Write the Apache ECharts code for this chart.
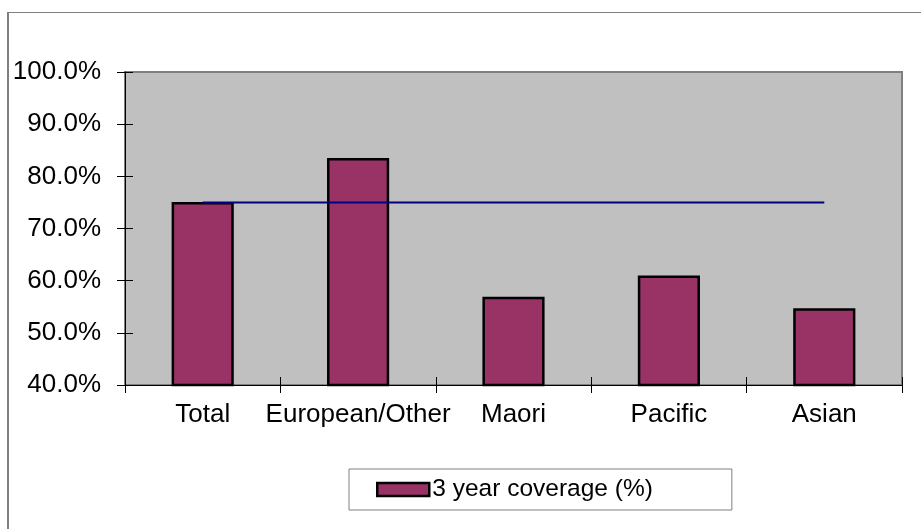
<!DOCTYPE html>
<html>
<head>
<meta charset="utf-8">
<script src="https://cdn.jsdelivr.net/npm/echarts@6/dist/echarts.min.js"></script>
<style>
  html, body { margin: 0; padding: 0; background: #fff; }
  #frame { position: absolute; left: 7px; top: 12px; width: 1000px; height: 1000px;
           border-left: 2px solid #808080; border-top: 1px solid #808080; }
  #chart { position: absolute; left: 0; top: 0; width: 921px; height: 529px; }
</style>
</head>
<body>
<div id="frame"></div>
<div id="chart"></div>
<script>
const categories = ['Total', 'European/Other', 'Maori', 'Pacific', 'Asian'];
const coverage = [75.1, 83.5, 56.9, 61.0, 54.7];
const target = [75, 75, 75, 75, 75];
const yTicks = { min: 40, max: 100, interval: 10 };
const seriesName = '3 year coverage (%)';

const font = 'Liberation Sans, Arial, sans-serif';
const chart = echarts.init(document.getElementById('chart'), null, { renderer: 'canvas' });

const gridTop = 72, gridBottomY = 385, gridLeft = 125, gridRightX = 902;
const gridH = gridBottomY - gridTop, gridW = gridRightX - gridLeft;

chart.setOption({
  animation: false,
  backgroundColor: 'transparent',
  grid: {
    left: gridLeft, top: gridTop, right: 921 - gridRightX, bottom: 529 - gridBottomY,
    show: true, backgroundColor: '#C0C0C0', borderColor: '#808080', borderWidth: 2
  },
  legend: {
    data: [{ name: seriesName, icon: 'rect', itemStyle: { color: '#993366', borderColor: '#000', borderWidth: 2.5 } }],
    left: 349, top: 469,
    itemWidth: 52, itemHeight: 13, itemGap: 0,
    padding: [8, 79, 8, 27],
    backgroundColor: '#fff', borderColor: '#808080', borderWidth: 1, borderRadius: 0,
    selectedMode: false,
    textStyle: { fontFamily: font, fontSize: 24.5, color: '#000', padding: [0, 0, 0, -2] }
  },
  xAxis: [
    {
      type: 'category', data: categories, position: 'bottom',
      axisLine: { lineStyle: { color: '#000', width: 1 } },
      axisTick: { show: true, inside: false, length: 8, lineStyle: { color: '#000' } },
      axisLabel: { fontFamily: font, fontSize: 26, color: '#000', margin: 17, interval: 0 },
      splitLine: { show: false }
    },
    {
      type: 'category', data: categories, position: 'top', offset: -(gridH - 8),
      axisLine: { show: false },
      axisTick: { show: true, inside: true, length: 8, lineStyle: { color: '#000' } },
      axisLabel: { show: false }, splitLine: { show: false }
    }
  ],
  yAxis: [
    {
      type: 'value', min: yTicks.min, max: yTicks.max, interval: yTicks.interval,
      axisLine: { show: true, lineStyle: { color: '#000', width: 1 } },
      axisTick: { show: true, inside: false, length: 8, lineStyle: { color: '#000' } },
      axisLabel: { fontFamily: font, fontSize: 26, color: '#000', margin: 24,
                   formatter: v => v.toFixed(1) + '%' },
      splitLine: { show: false }
    },
    {
      type: 'value', min: yTicks.min, max: yTicks.max, interval: yTicks.interval,
      position: 'right', offset: -(gridW - 8),
      axisLine: { show: false },
      axisTick: { show: true, inside: true, length: 8, lineStyle: { color: '#000' } },
      axisLabel: { show: false }, splitLine: { show: false }
    }
  ],
  series: [
    {
      name: seriesName, type: 'bar', data: coverage, barWidth: '40%',
      itemStyle: { color: '#993366', borderColor: '#000', borderWidth: 2.5 },
      z: 2
    },
    {
      name: 'target', type: 'line', data: target, symbol: 'none',
      lineStyle: { color: '#000080', width: 2 }, z: 3
    }
  ]
});
</script>
</body>
</html>
